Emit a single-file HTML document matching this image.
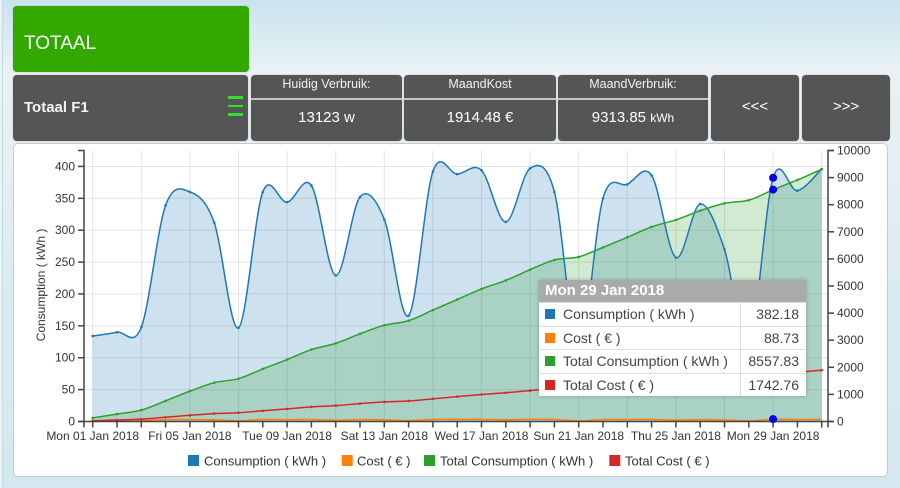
<!DOCTYPE html>
<html><head><meta charset="utf-8">
<style>
*{box-sizing:border-box;margin:0;padding:0}
body{width:900px;height:488px;overflow:hidden;position:relative;font-family:"Liberation Sans",Arial,sans-serif;
background:linear-gradient(to bottom,#c8e4ee 0px,#d6eaf1 30px,#e9f1f4 70px,#e6f0f3 140px,#d9ebf2 300px,#d4e8f0 488px);}
.abs{position:absolute}
.box{position:absolute;background:#555;border-radius:4px;color:#fff;box-shadow:0 0 1px rgba(0,0,0,.4)}
.hd{position:absolute;left:0;right:0;top:0;height:25px;border-bottom:2px solid #c4c4c4;text-align:center;font-size:12.5px;line-height:19px;color:#f2f2f2}
.val{position:absolute;left:0;right:0;top:27px;text-align:center;font-size:15px;line-height:32px;color:#fff}
.val small{font-size:12px}
.nav{position:absolute;left:0;right:0;top:0;bottom:0;text-align:center;font-size:15px;line-height:64px}
#panel{position:absolute;left:13px;top:143px;width:875px;height:334px;background:#fff;border:1px solid #c9c9c9;border-radius:5px}
#tt{position:absolute;left:539px;top:280px;width:267px;height:116px;background:#fff;box-shadow:0 0 4px rgba(0,0,0,.25);font-size:14px;color:#444}
#tt .th{height:22px;background:#aaa;color:#fff;font-weight:bold;font-size:15px;line-height:22px;padding-left:6px}
#tt .r{position:relative;height:23.5px;border-top:1px solid #ddd;line-height:22px}
#tt .r .sq{position:absolute;left:6px;top:6px;width:10px;height:10px}
#tt .r .l{position:absolute;left:24px;top:0}
#tt .r .v{position:absolute;right:7px;top:0}
#tt .r .sep{position:absolute;left:201px;top:0;bottom:0;border-left:1px solid #ddd}
</style></head><body>
<div class="abs" style="left:0;top:0;width:3px;height:488px;background:#e9f2f5;border-right:1px solid #c6dbe3"></div>

<div class="box" style="left:13px;top:6px;width:236px;height:66px;background:#33a900">
  <div class="abs" style="left:11px;top:26px;font-size:19px;line-height:24px;color:#fff">TOTAAL</div>
</div>

<div class="box" style="left:13px;top:75px;width:235px;height:66px">
  <div class="abs" style="left:11px;top:23px;font-size:15px;font-weight:bold;line-height:20px;color:#f4f4f4">Totaal F1</div>
  <div class="abs" style="left:215px;top:21px;width:15px;height:2.5px;background:#33dd33"></div>
  <div class="abs" style="left:215px;top:29.5px;width:15px;height:2.5px;background:#33dd33"></div>
  <div class="abs" style="left:215px;top:38px;width:15px;height:2.5px;background:#33dd33"></div>
</div>
<div class="box" style="left:251px;top:75px;width:151px;height:66px">
  <div class="hd">Huidig Verbruik:</div><div class="val">13123 w</div>
</div>
<div class="box" style="left:404px;top:75px;width:152px;height:66px">
  <div class="hd">MaandKost</div><div class="val">1914.48 €</div>
</div>
<div class="box" style="left:558px;top:75px;width:150px;height:66px">
  <div class="hd">MaandVerbruik:</div><div class="val">9313.85 <small>kWh</small></div>
</div>
<div class="box" style="left:711px;top:75px;width:88px;height:66px"><div class="nav">&lt;&lt;&lt;</div></div>
<div class="box" style="left:802px;top:75px;width:88px;height:66px"><div class="nav">&gt;&gt;&gt;</div></div>

<div id="panel"></div>

<svg class="abs" style="left:0;top:0" width="900" height="488" viewBox="0 0 900 488" font-family="Liberation Sans, Arial, sans-serif">
  <g id="grid" stroke="#e3e3e3" stroke-width="1"></g>
  <path id="aBlue" fill="rgba(31,119,180,0.22)" stroke="none"/>
  <path id="aGreen" fill="rgba(44,160,44,0.22)" stroke="none"/>
  <path id="lBlue" fill="none" stroke="#1f77b4" stroke-width="1.5"/>
  <path id="lOrange" fill="none" stroke="#ff7f0e" stroke-width="1.5"/>
  <path id="lGreen" fill="none" stroke="#2ca02c" stroke-width="1.5"/>
  <path id="lRed" fill="none" stroke="#d62728" stroke-width="1.5"/>
  <g id="pts"></g>
  <g id="axes" stroke="#444" stroke-width="1.5" fill="none"></g>

  <g font-size="12" fill="#333" text-anchor="end">
    <text x="75" y="425.5">0</text>
    <text x="75" y="393.6">50</text>
    <text x="75" y="361.7">100</text>
    <text x="75" y="329.9">150</text>
    <text x="75" y="298">200</text>
    <text x="75" y="266.1">250</text>
    <text x="75" y="234.2">300</text>
    <text x="75" y="202.3">350</text>
    <text x="75" y="170.5">400</text>
  </g>
  <g font-size="12" fill="#333" text-anchor="start">
    <text x="837" y="425.5">0</text>
    <text x="837" y="398.4">1000</text>
    <text x="837" y="371.3">2000</text>
    <text x="837" y="344.2">3000</text>
    <text x="837" y="317.1">4000</text>
    <text x="837" y="290">5000</text>
    <text x="837" y="262.9">6000</text>
    <text x="837" y="235.8">7000</text>
    <text x="837" y="208.7">8000</text>
    <text x="837" y="181.6">9000</text>
    <text x="837" y="154.5">10000</text>
  </g>
  <g font-size="12" fill="#333" text-anchor="middle">
    <text x="92.7" y="440">Mon 01 Jan 2018</text>
    <text x="189.9" y="440">Fri 05 Jan 2018</text>
    <text x="287.1" y="440">Tue 09 Jan 2018</text>
    <text x="384.3" y="440">Sat 13 Jan 2018</text>
    <text x="481.5" y="440">Wed 17 Jan 2018</text>
    <text x="578.7" y="440">Sun 21 Jan 2018</text>
    <text x="675.9" y="440">Thu 25 Jan 2018</text>
    <text x="773.1" y="440">Mon 29 Jan 2018</text>
  </g>
  <text x="0" y="0" font-size="12" fill="#333" text-anchor="middle" transform="translate(45,285) rotate(-90)">Consumption ( kWh )</text>

  <g font-size="13" fill="#333">
    <rect x="188" y="455" width="11" height="11" fill="#1f77b4"/>
    <text x="204" y="465.5">Consumption ( kWh )</text>
    <rect x="341.7" y="455" width="11" height="11" fill="#ff7f0e"/>
    <text x="357" y="465.5">Cost ( € )</text>
    <rect x="424" y="455" width="11" height="11" fill="#2ca02c"/>
    <text x="440" y="465.5">Total Consumption ( kWh )</text>
    <rect x="609.3" y="455" width="11" height="11" fill="#d62728"/>
    <text x="625" y="465.5">Total Cost ( € )</text>
  </g>
  <g fill="#0000ee">
    <circle cx="773.1" cy="177.8" r="4"/>
    <circle cx="773.1" cy="189.6" r="4"/>
    <circle cx="773.1" cy="419.1" r="4"/>
  </g>
</svg>

<div id="tt">
  <div class="th">Mon 29 Jan 2018</div>
  <div class="r"><span class="sq" style="background:#1f77b4"></span><span class="l">Consumption ( kWh )</span><span class="sep"></span><span class="v">382.18</span></div>
  <div class="r"><span class="sq" style="background:#ff7f0e"></span><span class="l">Cost ( € )</span><span class="sep"></span><span class="v">88.73</span></div>
  <div class="r"><span class="sq" style="background:#2ca02c"></span><span class="l">Total Consumption ( kWh )</span><span class="sep"></span><span class="v">8557.83</span></div>
  <div class="r"><span class="sq" style="background:#d62728"></span><span class="l">Total Cost ( € )</span><span class="sep"></span><span class="v">1742.76</span></div>
</div>

<script>
(function(){
var cons=[134,140,148,339,360,312,147,360,344,370,229,352,317,166,392,388,394,313,397,360,112,350,372,386,257,341,270,118,382.18,362,396];
var X=function(i){return 92.7+24.3*i;};
var B=421.5;
var YL=function(v){return B-v*271/425;};
var YR=function(v){return B-v*0.0271;};
var cost=[],tot=[],tc=[],s=0,sc=0;
for(var i=0;i<cons.length;i++){s+=cons[i];var c=cons[i]*0.2036;sc+=c;cost.push(c);tot.push(s);tc.push(sc);}
function pts(arr,Y){return arr.map(function(v,i){return [X(i),Y(v)];});}
function f(n){return n.toFixed(2);}
function path(p){
  var d='M'+f(p[0][0])+','+f(p[0][1]);
  for(var i=0;i<p.length-1;i++){
    var p0=p[Math.max(i-1,0)],p1=p[i],p2=p[i+1],p3=p[Math.min(i+2,p.length-1)];
    var c1x=p1[0]+(p2[0]-p0[0])/6,c1y=p1[1]+(p2[1]-p0[1])/6;
    var c2x=p2[0]-(p3[0]-p1[0])/6,c2y=p2[1]-(p3[1]-p1[1])/6;
    d+='C'+f(c1x)+','+f(c1y)+' '+f(c2x)+','+f(c2y)+' '+f(p2[0])+','+f(p2[1]);
  }
  return d;
}
function area(p){return path(p)+'L'+f(p[p.length-1][0])+','+B+'L'+f(p[0][0])+','+B+'Z';}
var pb=pts(cons,YL),po=pts(cost,YR),pg=pts(tot,YR),pr=pts(tc,YR);
document.getElementById('aBlue').setAttribute('d',area(pb));
document.getElementById('aGreen').setAttribute('d',area(pg));
document.getElementById('lBlue').setAttribute('d',path(pb));
document.getElementById('lOrange').setAttribute('d',path(po));
document.getElementById('lGreen').setAttribute('d',path(pg));
document.getElementById('lRed').setAttribute('d',path(pr));
var NS='http://www.w3.org/2000/svg';
function el(parent,tag,attrs){var e=document.createElementNS(NS,tag);for(var k in attrs)e.setAttribute(k,attrs[k]);parent.appendChild(e);return e;}
var g=document.getElementById('grid');
for(var k=0;k<=8;k++){var y=B-k*50*271/425;el(g,'line',{x1:84,x2:828,y1:y,y2:y});}
for(var i=0;i<=30;i+=2){el(g,'line',{x1:X(i),x2:X(i),y1:150.5,y2:B});}
var pg2=document.getElementById('pts');
[[pb,'#1f77b4'],[pg,'#2ca02c'],[pr,'#d62728']].forEach(function(a){a[0].forEach(function(p){el(pg2,'circle',{cx:p[0],cy:p[1],r:1.3,fill:a[1]});});});
var ax=document.getElementById('axes');
el(ax,'path',{d:'M78,150.5H84V'+B+'H78'});
for(var k=0;k<=8;k++){var y=B-k*50*271/425;el(ax,'line',{x1:78,x2:84,y1:y,y2:y});}
el(ax,'path',{d:'M834,150.5H828V'+B+'H834'});
for(var k=0;k<=10;k++){var y=B-k*27.1;el(ax,'line',{x1:828,x2:834,y1:y,y2:y});}
el(ax,'path',{d:'M84,'+(B+6)+'V'+B+'H828V'+(B+6)});
for(var i=0;i<=30;i++){el(ax,'line',{x1:X(i),x2:X(i),y1:B,y2:B+6});}
})();
</script>
</body></html>
